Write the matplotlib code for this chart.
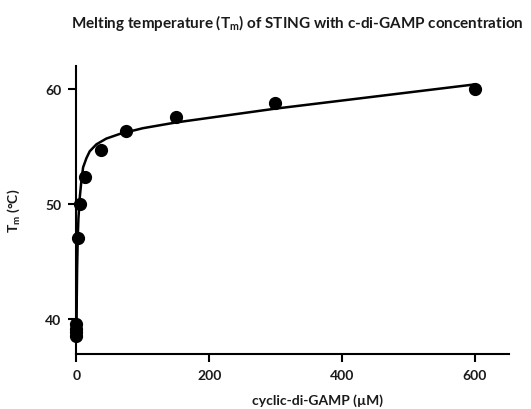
import matplotlib
matplotlib.use('Agg')
import matplotlib.pyplot as plt

plt.rcParams['font.family'] = ['Lato', 'DejaVu Sans']
plt.rcParams['mathtext.fontset'] = 'custom'
plt.rcParams['mathtext.rm'] = 'Lato:bold'
plt.rcParams['mathtext.it'] = 'Lato:bold'
plt.rcParams['mathtext.bf'] = 'Lato:bold'

# measured points (cGAMP in uM, Tm in C)
conc = [0, 0, 0, 0, 1.8, 5, 12.5, 37.5, 75, 150, 300, 600]
tm = [38.6, 38.9, 39.2, 39.6, 47.1, 50.0, 52.4, 54.7, 56.4, 57.6, 58.8, 60.0]

# fitted curve
fitX = [0, 0.5, 1, 2, 3, 5, 7, 10, 15, 20, 30, 45, 65, 100, 150, 200, 300, 400, 500, 600]
fitY = [38.5, 42.0, 44.5, 47.2, 48.8, 50.6, 51.8, 53.2, 54.0, 54.6, 55.2, 55.7, 56.1, 56.6, 57.1, 57.5, 58.3, 59.0, 59.7, 60.4]

xTicks = [0, 200, 400, 600]
yTicks = [40, 50, 60]

txt = '#1a1a1a'

fig = plt.figure(figsize=(5.31, 4.10), dpi=100)
ax = fig.add_axes([0.144, 0.134, 0.8146, 0.7026])

ax.plot(fitX, fitY, color='black', lw=1.8, clip_on=False, zorder=2)
ax.plot(conc, tm, 'o', color='black', ms=8.5, clip_on=False, zorder=3)

ax.set_xlim(0, 652)
ax.set_ylim(37, 62)
ax.set_xticks(xTicks)
ax.set_yticks(yTicks)

for s in ['top', 'right']:
    ax.spines[s].set_visible(False)
for s in ['left', 'bottom']:
    ax.spines[s].set_linewidth(1.5)
ax.tick_params(direction='out', length=6, width=1.5, pad=5, labelsize=10, labelcolor=txt)
for lab in ax.get_xticklabels() + ax.get_yticklabels():
    lab.set_fontweight('bold')

ax.set_xlabel('cyclic-di-GAMP (µM)', fontsize=10, fontweight='bold', color=txt)
ax.xaxis.set_label_coords(0.557, -0.135)
ax.set_ylabel(r'T$_\mathregular{m}$ (°C)', fontsize=10, fontweight='bold', color=txt)
ax.yaxis.set_label_coords(-0.125, 0.5)

fig.text(0.56, 0.945, r'Melting temperature (T$_\mathregular{m}$) of STING with c-di-GAMP concentration',
         ha='center', va='center', fontsize=11, fontweight='bold', color=txt)

fig.savefig('out.png', dpi=100)
